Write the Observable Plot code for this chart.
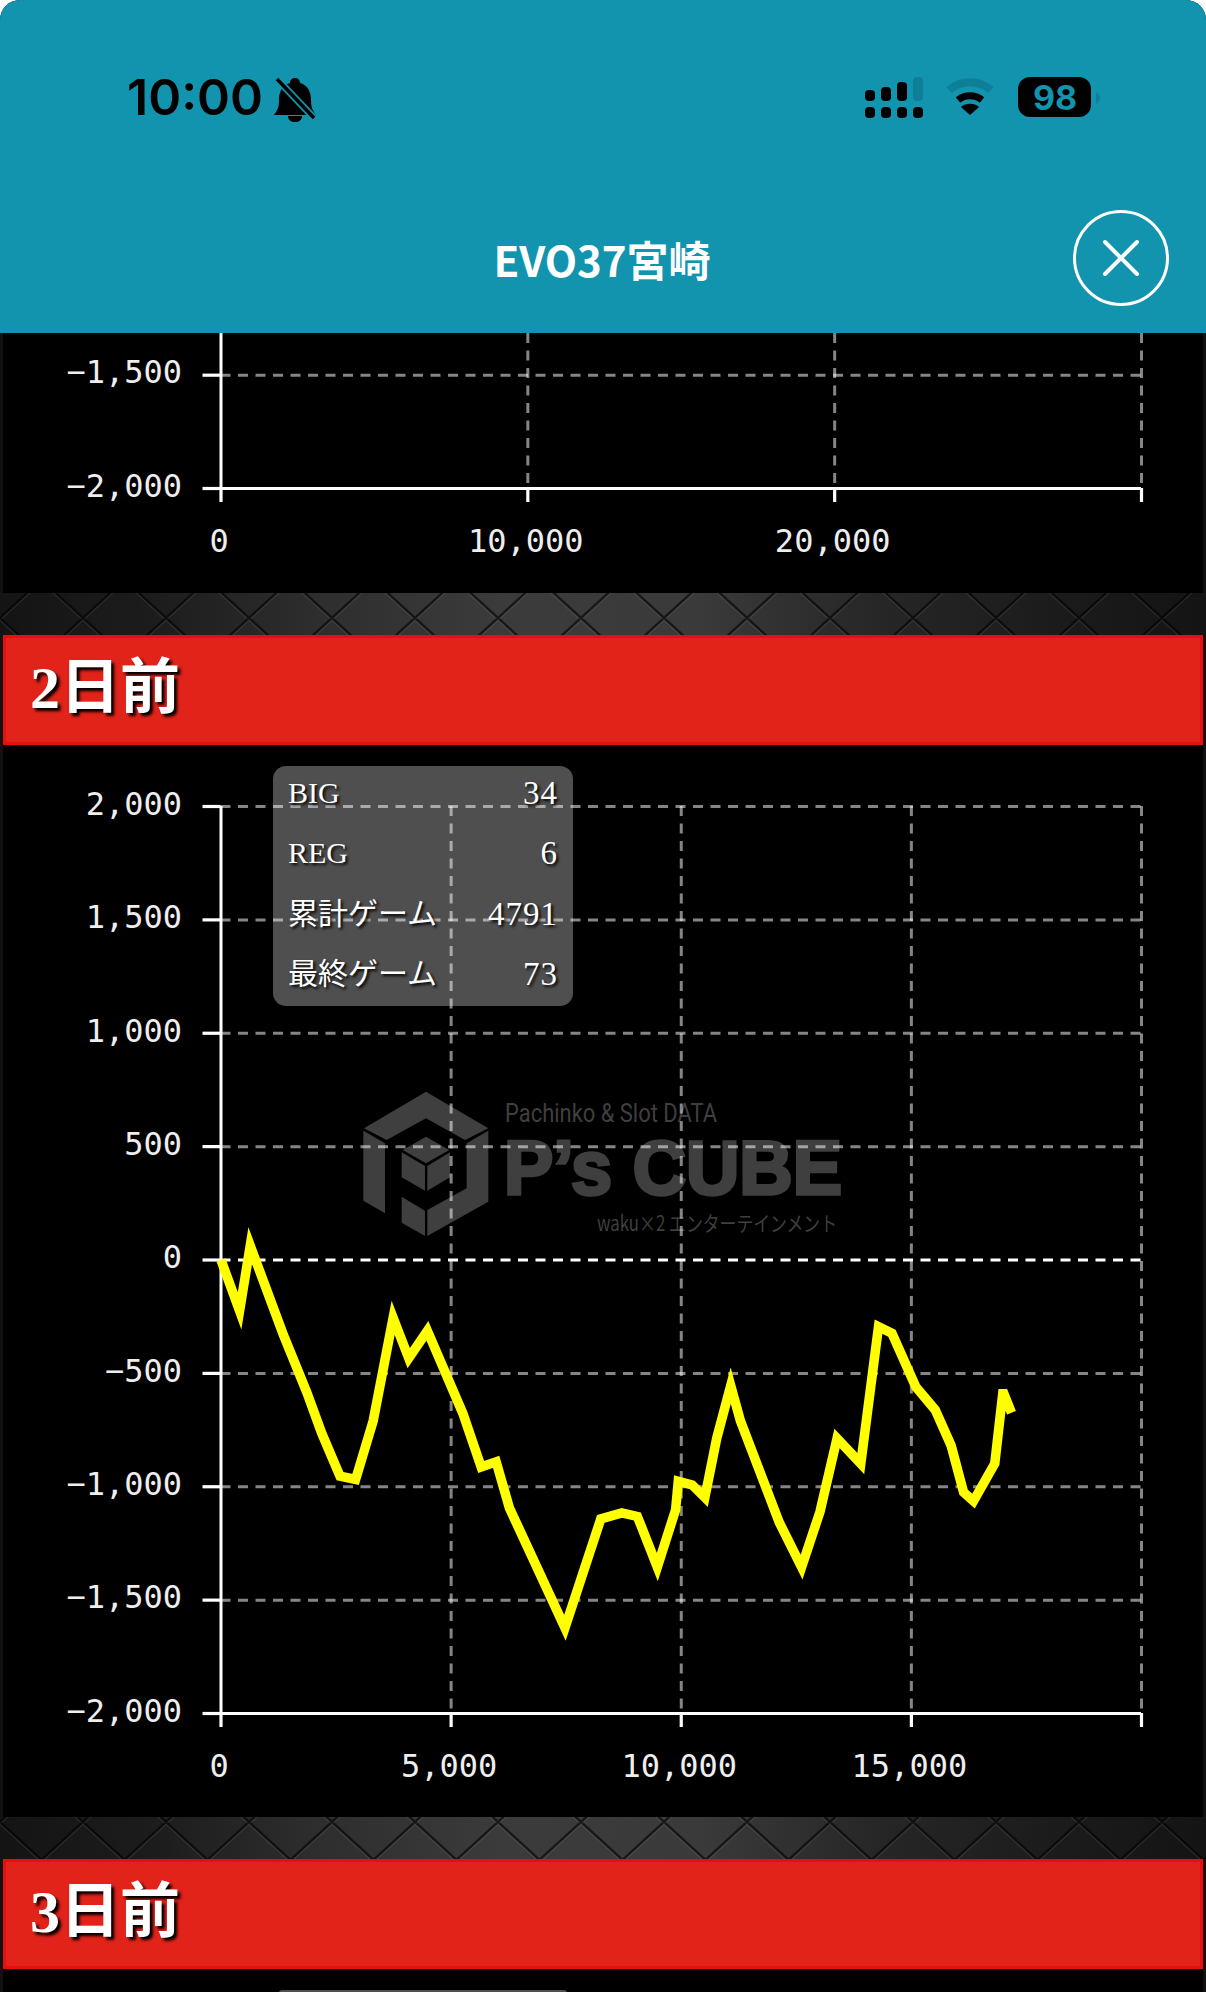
<!DOCTYPE html>
<html lang="ja"><head><meta charset="utf-8">
<script src="https://cdn.jsdelivr.net/npm/d3@7"></script>
<script src="https://cdn.jsdelivr.net/npm/@observablehq/plot@0.6"></script>
<style>
html,body{margin:0;padding:0;background:#fff}
#page{position:relative;width:1206px;height:1992px;overflow:hidden;background:#111;border-radius:20px 20px 0 0}
.abs{position:absolute}
.panel{position:absolute;left:3px;width:1200px;background:#000}
.band{position:absolute;left:0;width:1206px;height:42px;background-size:83px 76px,100% 100%}
.bar{position:absolute;left:3px;width:1200px;height:110px;box-sizing:border-box;background:#e1231a;border:3px solid #e80e0e;color:#fff;
 font:700 60px "Liberation Serif","Noto Sans CJK JP",serif;line-height:100px;padding-left:24px;text-shadow:3px 3px 3px #000}
#header{position:absolute;left:0;top:0;width:1206px;height:333px;background:#1293ae;z-index:10}
#title{position:absolute;left:0;width:1204px;top:229px;text-align:center;color:#fff;font:700 42px "Noto Sans CJK JP",sans-serif;line-height:60px}
#time{position:absolute;left:127px;top:64px;font:600 50px Inter,sans-serif;color:#000;line-height:66px}
.chart{position:absolute;left:0}
.chart svg{display:block;background:transparent}
.tipbox{position:absolute;left:273px;top:766px;width:300px;height:240px;border-radius:13px;background:#4f4f4f}
#tiptext{position:absolute;left:288px;top:763px;width:269px;z-index:4;color:#fff;font:400 30px "Liberation Serif","Noto Sans CJK JP",serif;text-shadow:2px 2px 3px #000}
#tiptext div{display:flex;justify-content:space-between;height:60.3px;line-height:60.3px}
#tiptext .v{font-size:33px;letter-spacing:1px;margin-right:-1px}
</style></head><body>
<div id="page">
  <div id="band1" class="band" style="top:593px"></div>
  <div id="band2" class="band" style="top:1817px"></div>
  <div class="panel" style="top:333px;height:260px"></div>
  <div class="panel" style="top:745px;height:1072px"></div>
  <div class="panel" style="top:1969px;height:23px"></div>
  <div class="bar" style="top:635px" id="bar2"></div>
  <div class="bar" style="top:1859px" id="bar3"></div>
  <svg class="abs" style="left:350px;top:1080px;z-index:1;overflow:visible" width="510" height="170" viewBox="0 0 510 170">
    <g fill="#3f3f3f" transform="scale(0.3333)">
      <polygon points="228,35 415,145 345,180 228,115 110,180 42,145"/>
      <polygon points="40,152 105,190 105,400 40,362"/>
      <polygon points="415,152 415,365 232,468 232,390 350,325 350,190"/>
      <polygon points="155,350 225,392 225,468 155,428"/>
      <polygon points="228,170 298,210 228,250 158,210"/>
      <polygon points="155,217 225,258 225,332 155,292"/>
      <polygon points="232,258 300,217 300,292 232,332"/>
    </g>
    <g fill="#3f3f3f">
      <text x="155" y="42" font-family="Roboto" font-size="26" textLength="212" lengthAdjust="spacingAndGlyphs">Pachinko &amp; Slot DATA</text>
      <text x="154" y="114" font-family="Liberation Sans" font-weight="700" font-size="76" textLength="338" lengthAdjust="spacingAndGlyphs" stroke="#3f3f3f" stroke-width="3.5">P’s CUBE</text>
      <text x="247" y="151" font-family="Noto Sans CJK JP" font-size="21" textLength="240" lengthAdjust="spacingAndGlyphs">waku×2 エンターテインメント</text>
    </g>
  </svg>
  <div class="tipbox" style="z-index:1"></div>
  <div class="abs" style="left:279px;top:1990px;width:288px;height:6px;border-radius:8px;background:#4f4f4f"></div>
  <div id="chartTop" class="chart" style="top:333px;z-index:2"></div>
  <div id="chartMain" class="chart" style="top:745px;z-index:2"></div>
  <div id="tiptext"></div>
  <div id="header">
    <div id="time">10:00</div>
    <svg class="abs" style="left:0;top:0" width="1206" height="333">
      <g fill="#000">
        <path d="M295 78c3 0 5 2 5 5 8 2 11 9 11 17 0 8 2 11 5 15h-42c3-4 5-7 5-15 0-8 3-15 11-17 0-3 2-5 5-5z"/>
        <path d="M288 116h14c0 4-3 6-7 6s-7-2-7-6z"/>
      </g>
      <line x1="277" y1="79" x2="314" y2="118" stroke="#1293ae" stroke-width="7"/>
      <line x1="277" y1="79" x2="314" y2="118" stroke="#000" stroke-width="3.5"/>
      <g fill="#000">
        <rect x="865" y="107" width="10" height="11" rx="4"/><rect x="881" y="107" width="10" height="11" rx="4"/><rect x="897" y="107" width="10" height="11" rx="4"/><rect x="913" y="107" width="10" height="11" rx="4"/>
        <rect x="865" y="90" width="10" height="11" rx="4"/><rect x="881" y="87" width="10" height="14" rx="4"/><rect x="897" y="82" width="10" height="19" rx="4"/>
      </g>
      <rect x="913" y="77" width="10" height="24" rx="4" fill="#0e7f98"/>
      <path d="M949 90a32 32 0 0 1 42 0" fill="none" stroke="#0e7f98" stroke-width="8"/>
      <path d="M958 100a19 19 0 0 1 24 0" fill="none" stroke="#000" stroke-width="7"/>
      <path d="M970 115l-9-8a14 14 0 0 1 18 0z" fill="#000"/>
      <rect x="1018" y="77" width="73" height="40" rx="12" fill="#000"/>
      <text x="1055" y="110" text-anchor="middle" font-family="Inter" font-weight="700" font-size="34" fill="#1293ae">98</text>
      <path d="M1096 92c3 2 4 4 4 6s-1 4-4 6z" fill="#0e7f98"/>
      <circle cx="1121" cy="258" r="46.5" fill="none" stroke="#fff" stroke-width="3"/>
      <path d="M1105 242l32 32M1137 242l-32 32" stroke="#fff" stroke-width="4" stroke-linecap="round"/>
    </svg>
    <div id="title"></div>
  </div>
</div>
<script>
// ---- text
const shopTitle = "EVO37宮崎";
const sectionTitles = ["2日前", "3日前"];
const tipLabels = ["BIG", "REG", "累計ゲーム", "最終ゲーム"];
const tipValues = [34, 6, 4791, 73];

// ---- axes
const yDomain = [-2000, 2000];
const yTicks = [-2000, -1500, -1000, -500, 0, 500, 1000, 1500, 2000];
const xDomain = [0, 20000];
const xTicks = [0, 5000, 10000, 15000, 20000];
const topYDomain = [-2000, -1316];
const topYTicks = [-2000, -1500];
const topXDomain = [0, 30000];
const topXTicks = [0, 10000, 20000, 30000];

// ---- series: cumulative games vs. difference
const games = [0,404,635,1357,1863,2188,2585,2924,3307,3740,4079,4484,5256,5653,5978,6267,6700,7473,8252,8707,9047,9480,9877,9935,10238,10513,10770,11075,11285,12129,12615,13015,13385,13901,14286,14578,15095,15518,15865,16134,16350,16812,16985,17010,17175];
const diff  = [0,-224,63,-331,-583,-764,-953,-968,-709,-255,-433,-312,-677,-913,-890,-1094,-1283,-1622,-1142,-1115,-1131,-1354,-1102,-976,-992,-1047,-787,-554,-709,-1157,-1354,-1110,-787,-898,-294,-323,-559,-661,-819,-1024,-1063,-898,-590,-590,-674];

const fmt = d3.format(",");
const labelFont = {fontFamily:"'DejaVu Sans Mono',monospace", fontSize:32, fill:"#eee", stroke:"none"};
const tickStyle = {fill:"none", stroke:"#fff", strokeWidth:3.2, label:null};
const gridStyle = {stroke:"#fff", strokeOpacity:0.52, strokeWidth:3, strokeDasharray:"10 7.5"};

function chart({xd, yd, xt, yt, height, mt, mb, lastX, series}) {
  const gx = xt.filter(d => d !== 0), gy = yt.filter(d => d !== yd[0] && d !== 0);
  const marks = [
    Plot.ruleY(gy, gridStyle),
    Plot.ruleX(gx, gridStyle),
    Plot.ruleY(yt.filter(d => d === 0), {stroke:"#fff", strokeWidth:3, strokeDasharray:"10 7.5"}),
    Plot.ruleX([0], {stroke:"#fff", strokeWidth:3}),
    Plot.ruleY([yd[0]], {stroke:"#fff", strokeWidth:3}),
    Plot.axisY({ticks:yt, tickSize:18, ...tickStyle}),
    Plot.axisX({ticks:xt, tickSize:14, ...tickStyle}),
    Plot.axisY({ticks:yt, tickSize:0, tickPadding:39, dy:-2, label:null, tickFormat:fmt, ...labelFont}),
    Plot.axisX({ticks:xt, tickSize:0, tickPadding:41, dx:-2, label:null, tickFormat:d => d === lastX ? "" : fmt(d), ...labelFont})
  ];
  if (series) marks.push(Plot.line(series, {x:"g", y:"d", stroke:"#ffff00", strokeWidth:9.5, strokeLinejoin:"miter", strokeLinecap:"butt", strokeMiterlimit:5, curve:"linear"}));
  return Plot.plot({
    width:1206, height, marginTop:mt, marginBottom:mb, marginLeft:220.5, marginRight:65,
    x:{domain:xd}, y:{domain:yd},
    style:{background:"transparent", overflow:"visible"},
    marks
  });
}

document.getElementById("chartTop").append(chart({xd:topXDomain, yd:topYDomain, xt:topXTicks, yt:topYTicks, height:260, mt:0, mb:105, lastX:30000}));
document.getElementById("chartMain").append(chart({xd:xDomain, yd:yDomain, xt:xTicks, yt:yTicks, height:1072, mt:61, mb:104, lastX:20000,
  series:games.map((g,i)=>({g, d:diff[i]}))}));

document.getElementById("title").textContent = shopTitle;
document.getElementById("bar2").textContent = sectionTitles[0];
document.getElementById("bar3").textContent = sectionTitles[1];
document.getElementById("tiptext").innerHTML = tipLabels.map((l,i)=>`<div><span>${l}</span><span class="v">${tipValues[i]}</span></div>`).join("");

const tile = encodeURIComponent(`<svg xmlns="http://www.w3.org/2000/svg" width="83" height="76"><g fill="none"><path d="M0 38L41.5 0L83 38L41.5 76z" stroke="#fff" stroke-opacity=".1" stroke-width="1.4" transform="translate(0,2)"/><path d="M0 38L41.5 0L83 38L41.5 76z" stroke="#000" stroke-opacity=".6" stroke-width="2.4"/></g></svg>`);
const grad = "linear-gradient(90deg,#141414 0,#1c1c1c 150px,#2e2e2e 320px,#3b3b3b 500px,#3a3a3a 700px,#262626 880px,#1a1a1a 1080px,#141414 1206px)";
document.getElementById("band1").style.backgroundImage = `url("data:image/svg+xml,${tile}"),${grad}`;
document.getElementById("band1").style.backgroundPosition = "0 -13px,0 0";
document.getElementById("band2").style.backgroundImage = `url("data:image/svg+xml,${tile}"),${grad}`;
document.getElementById("band2").style.backgroundPosition = "0 -33px,0 0";
</script>
</body></html>
